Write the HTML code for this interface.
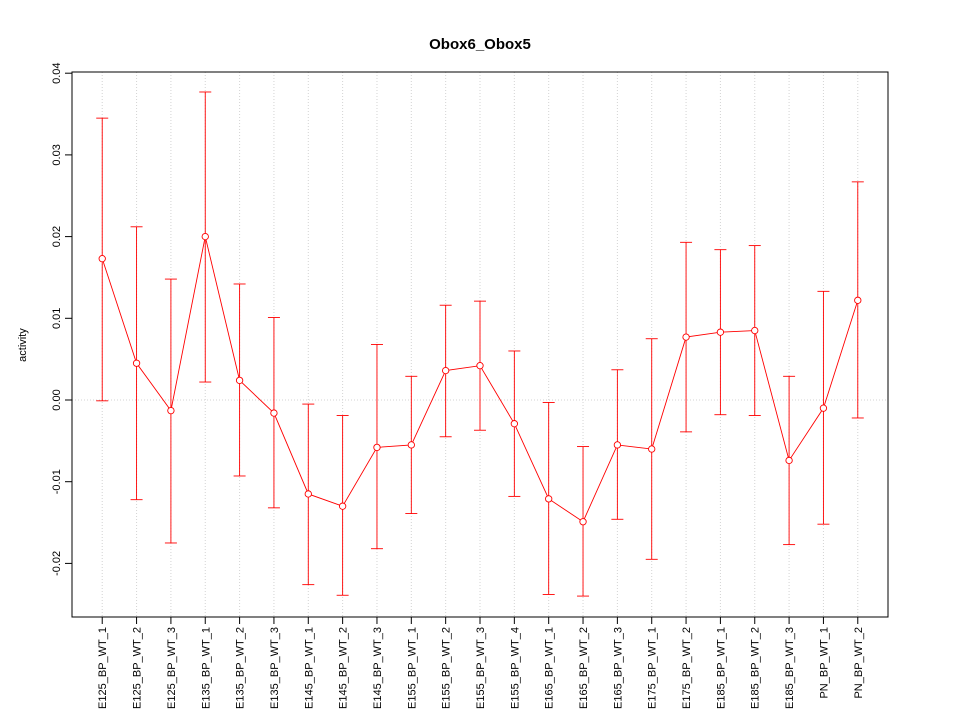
<!DOCTYPE html>
<html><head><meta charset="utf-8"><style>
body{margin:0;background:#fff}
svg{font-family:"Liberation Sans",sans-serif}
</style></head><body>
<svg id="chart" width="960" height="720">
<rect width="960" height="720" fill="#fff"/>
<text x="480" y="49" text-anchor="middle" font-weight="bold" font-size="15">Obox6_Obox5</text>
<text transform="translate(26,345) rotate(-90)" text-anchor="middle" font-size="11">activity</text>
<g id="grid"></g>
<g id="yaxis"></g>
<g id="xaxis"></g>
<g id="series"></g>
<rect x="72" y="72" width="816" height="545" fill="none" stroke="#000"/>
</svg>
<script>
const categories=["E125_BP_WT_1","E125_BP_WT_2","E125_BP_WT_3","E135_BP_WT_1","E135_BP_WT_2","E135_BP_WT_3","E145_BP_WT_1","E145_BP_WT_2","E145_BP_WT_3","E155_BP_WT_1","E155_BP_WT_2","E155_BP_WT_3","E155_BP_WT_4","E165_BP_WT_1","E165_BP_WT_2","E165_BP_WT_3","E175_BP_WT_1","E175_BP_WT_2","E185_BP_WT_1","E185_BP_WT_2","E185_BP_WT_3","PN_BP_WT_1","PN_BP_WT_2"];
const means=[0.0173,0.0045,-0.0013,0.0200,0.0024,-0.0016,-0.0115,-0.0130,-0.0058,-0.0055,0.0036,0.0042,-0.0029,-0.0121,-0.0149,-0.0055,-0.0060,0.0077,0.0083,0.0085,-0.0074,-0.0010,0.0122];
const lowers=[-0.0001,-0.0122,-0.0175,0.0022,-0.0093,-0.0132,-0.0226,-0.0239,-0.0182,-0.0139,-0.0045,-0.0037,-0.0118,-0.0238,-0.0240,-0.0146,-0.0195,-0.0039,-0.0018,-0.0019,-0.0177,-0.0152,-0.0022];
const uppers=[0.0345,0.0212,0.0148,0.0377,0.0142,0.0101,-0.0005,-0.0019,0.0068,0.0029,0.0116,0.0121,0.0060,-0.0003,-0.0057,0.0037,0.0075,0.0193,0.0184,0.0189,0.0029,0.0133,0.0267];
const yTicks=[-0.02,-0.01,0,0.01,0.02,0.03,0.04];
const yTickLabels=["-0.02","-0.01","0.00","0.01","0.02","0.03","0.04"];
const NS="http://www.w3.org/2000/svg";
const n=categories.length;
const x=i=>72+816*((i+1)-(1-0.04*(n-1)))/((n-1)*1.08);
const y=v=>400-v*8170;
function mk(tag,attrs,parent){const e=document.createElementNS(NS,tag);for(const k in attrs)e.setAttribute(k,attrs[k]);parent.appendChild(e);return e;}
const grid=document.getElementById('grid'),ya=document.getElementById('yaxis'),xa=document.getElementById('xaxis'),se=document.getElementById('series');
const gl=mk('line',{x1:72,x2:888,y1:y(0),y2:y(0),stroke:'#d3d3d3','stroke-dasharray':'1,2'},grid);


categories.forEach((c,i)=>{
 const l=mk('line',{x1:x(i),x2:x(i),y1:72,y2:617,stroke:'#d3d3d3','stroke-dasharray':'1,2'},grid);
 
 
 const t=mk('line',{x1:x(i),x2:x(i),y1:617,y2:624,stroke:'#000'},xa);
 
 
 const tx=mk('text',{transform:`translate(${x(i)+4},627) rotate(-90)`,'text-anchor':'end','font-size':'11'},xa);
 tx.textContent=c;
 
 
});
yTicks.forEach((v,i)=>{
 const t=mk('line',{x1:65,x2:72,y1:y(v),y2:y(v),stroke:'#000'},ya);
 
 
 const tx=mk('text',{transform:`translate(60,${y(v)}) rotate(-90)`,'text-anchor':'middle','font-size':'11'},ya);
 tx.textContent=yTickLabels[i];
 
 
});
const red='#ff0000';
categories.forEach((c,i)=>{
 const g=mk('g',{'stroke-width':0.9},se);
 
 
 mk('line',{x1:x(i),x2:x(i),y1:y(lowers[i]),y2:y(uppers[i]),stroke:red},g);
 mk('line',{x1:x(i)-6,x2:x(i)+6,y1:y(lowers[i]),y2:y(lowers[i]),stroke:red},g);
 mk('line',{x1:x(i)-6,x2:x(i)+6,y1:y(uppers[i]),y2:y(uppers[i]),stroke:red},g);
});
const pl=mk('polyline',{points:means.map((v,i)=>x(i)+','+y(v)).join(' '),fill:'none',stroke:red,'stroke-width':0.9},se);


means.forEach((v,i)=>{
 const p=mk('circle',{cx:x(i),cy:y(v),r:3.2,fill:'#fff',stroke:red,'stroke-width':0.9},se);
 
 
});
</script>
</body></html>
